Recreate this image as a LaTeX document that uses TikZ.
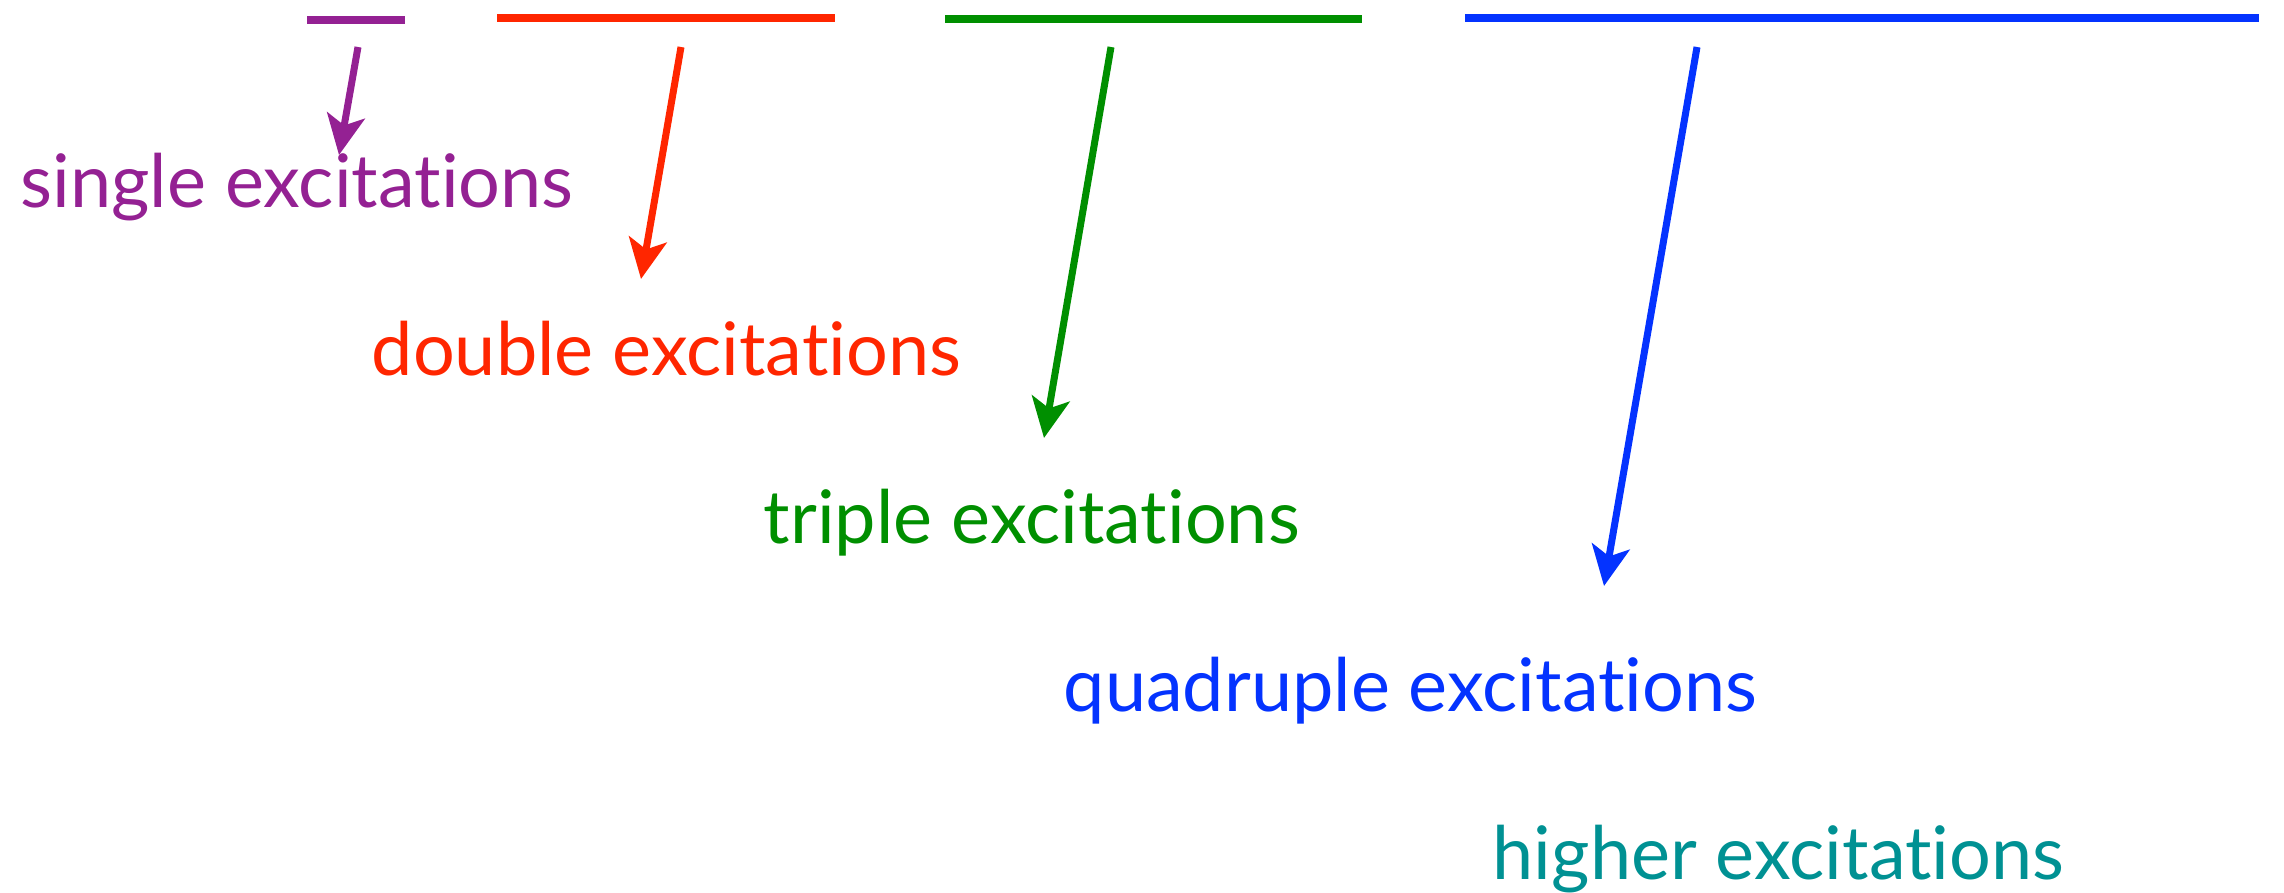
\documentclass[tikz,border=0pt]{standalone}
\usepackage{fontspec}
\setmainfont{Lato}[Ligatures={NoCommon,NoContextual}]
\usetikzlibrary{arrows.meta}

\definecolor{plum}{HTML}{942193}
\definecolor{maraschino}{HTML}{FF2600}
\definecolor{clover}{HTML}{008F00}
\definecolor{blueberry}{HTML}{0433FF}
\definecolor{tealish}{HTML}{009193}

\begin{document}
\begin{tikzpicture}[
  shell/.style={line width=0.08cm},
  exarrow/.style={line width=0.07cm, -{Stealth[length=0.40cm,width=0.38cm,inset=0.10cm]}},
  extext/.style={anchor=base west, inner sep=0pt, font=\fontsize{21}{25}\selectfont}
]
  \useasboundingbox (0,0) rectangle (22.84,-8.92);

  % ends of the bars
  \coordinate (sA) at (3.07,-0.20);
  \coordinate (sB) at (4.05,-0.20);
  \coordinate (dA) at (4.97,-0.18);
  \coordinate (dB) at (8.35,-0.18);
  \coordinate (tA) at (9.45,-0.19);
  \coordinate (tB) at (13.62,-0.19);
  \coordinate (qA) at (14.65,-0.18);
  \coordinate (qB) at (22.59,-0.18);

  % arrow ends
  \coordinate (sTop) at (3.58,-0.47);
  \coordinate (sTip) at (3.39,-1.55);
  \coordinate (dTop) at (6.81,-0.47);
  \coordinate (dTip) at (6.41,-2.79);
  \coordinate (tTop) at (11.11,-0.47);
  \coordinate (tTip) at (10.44,-4.38);
  \coordinate (qTop) at (16.97,-0.47);
  \coordinate (qTip) at (16.04,-5.86);

  \draw[shell, plum] (sA) -- (sB);
  \draw[shell, maraschino] (dA) -- (dB);
  \draw[shell, clover] (tA) -- (tB);
  \draw[shell, blueberry] (qA) -- (qB);

  \draw[exarrow, plum] (sTop) -- (sTip);
  \draw[exarrow, maraschino] (dTop) -- (dTip);
  \draw[exarrow, clover] (tTop) -- (tTip);
  \draw[exarrow, blueberry] (qTop) -- (qTip);

  \node[extext, text=plum] (single) at (0.20,-2.07) {single excitations};
  \node[extext, text=maraschino] (double) at (3.71,-3.75) {double excitations};
  \node[extext, text=clover] (triple) at (7.63,-5.43) {triple excitations};
  \node[extext, text=blueberry] (quadruple) at (10.63,-7.11) {quadruple excitations};
  \node[extext, text=tealish] (higher) at (14.92,-8.79) {higher excitations};
\end{tikzpicture}
\end{document}
